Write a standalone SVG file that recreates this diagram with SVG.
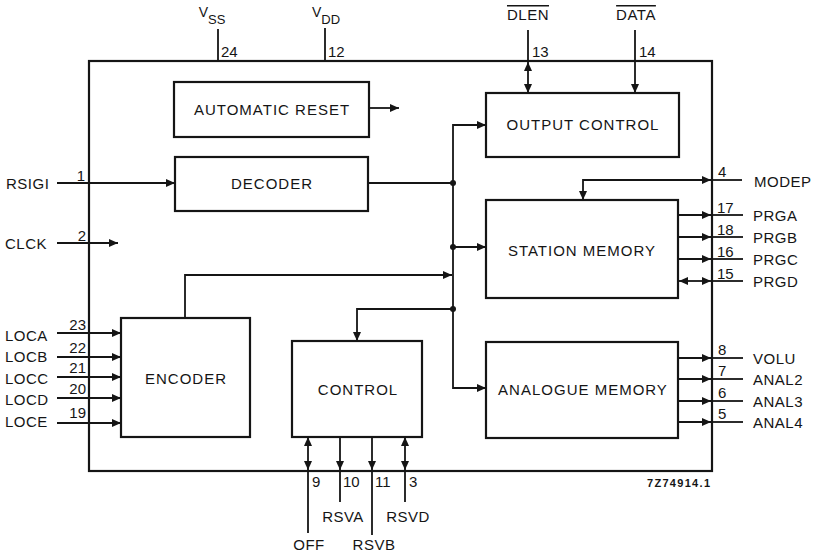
<svg xmlns="http://www.w3.org/2000/svg" width="814" height="555" viewBox="0 0 814 555">
<style>
  text { font-family: "Liberation Sans", Arial, sans-serif; fill: #151515; }
  .blk { fill: #ffffff; stroke: #151515; stroke-width: 2.2; }
  .outer { fill: none; stroke: #151515; stroke-width: 2.2; }
  .lbl { font-size: 15px; letter-spacing: 1px; text-anchor: middle; }
  .pin { font-size: 15px; letter-spacing: 0.5px; }
  .num { font-size: 15px; }
  .end { text-anchor: end; }
  .mid { text-anchor: middle; }
  .c { fill: none; stroke: #151515; stroke-width: 1.8; }
  .a { marker-end: url(#arr); }
  .aa { marker-start: url(#arr); marker-end: url(#arr); }
  .dot { fill: #151515; }
</style>
<defs>
  <marker id="arr" viewBox="0 0 9 8" refX="9" refY="4" markerWidth="9" markerHeight="8" markerUnits="userSpaceOnUse" orient="auto-start-reverse">
    <path d="M0,0 L9,4 L0,8 z" fill="#151515"/>
  </marker>
</defs>
<rect width="814" height="555" fill="#ffffff"/>

<rect id="chip" class="outer" x="89" y="61" width="623" height="410"/>

<g id="automatic-reset">
  <rect class="blk" x="174" y="82" width="195" height="55"/>
  <text class="lbl" x="272" y="115">AUTOMATIC RESET</text>
</g>
<g id="decoder">
  <rect class="blk" x="175" y="157" width="193" height="54"/>
  <text class="lbl" x="272" y="189">DECODER</text>
</g>
<g id="output-control">
  <rect class="blk" x="486" y="93" width="193" height="64"/>
  <text class="lbl" x="583" y="130">OUTPUT CONTROL</text>
</g>
<g id="station-memory">
  <rect class="blk" x="486" y="200" width="192" height="98"/>
  <text class="lbl" x="582" y="256">STATION MEMORY</text>
</g>
<g id="analogue-memory">
  <rect class="blk" x="486" y="342" width="192" height="96"/>
  <text class="lbl" x="583" y="395">ANALOGUE MEMORY</text>
</g>
<g id="encoder">
  <rect class="blk" x="121" y="318" width="129" height="119"/>
  <text class="lbl" x="186" y="384">ENCODER</text>
</g>
<g id="control">
  <rect class="blk" x="292" y="341" width="130" height="96"/>
  <text class="lbl" x="358" y="395">CONTROL</text>
</g>

<g id="connectors">
  <!-- left inputs -->
  <line class="c a" x1="57" y1="183" x2="175" y2="183"/>
  <line class="c a" x1="57" y1="243" x2="118" y2="243"/>
  <line class="c a" x1="57" y1="333" x2="121" y2="333"/>
  <line class="c a" x1="57" y1="357" x2="121" y2="357"/>
  <line class="c a" x1="57" y1="377" x2="121" y2="377"/>
  <line class="c a" x1="57" y1="398" x2="121" y2="398"/>
  <line class="c a" x1="57" y1="423" x2="121" y2="423"/>
  <!-- automatic reset out -->
  <line class="c a" x1="369" y1="108" x2="399" y2="108"/>
  <!-- decoder to bus -->
  <line class="c" x1="368" y1="183" x2="453" y2="183"/>
  <!-- bus -->
  <path class="c a" d="M453,183 V125 H486"/>
  <path class="c a" d="M453,183 V388 H486"/>
  <line class="c a" x1="453" y1="247" x2="486" y2="247"/>
  <circle class="dot" cx="453" cy="183" r="3"/>
  <circle class="dot" cx="453" cy="247" r="3"/>
  <circle class="dot" cx="453" cy="309" r="3"/>
  <!-- encoder to bus -->
  <path class="c a" d="M185,318 V275 H452"/>
  <!-- bus to control -->
  <path class="c a" d="M453,309 H357 V341"/>
  <!-- top pins -->
  <line class="c" x1="218" y1="29" x2="218" y2="61"/>
  <line class="c" x1="325" y1="28" x2="325" y2="61"/>
  <line class="c" x1="528" y1="30" x2="528" y2="62"/>
  <line class="c aa" x1="528" y1="62" x2="528" y2="93"/>
  <line class="c a" x1="635" y1="30" x2="635" y2="93"/>
  <!-- MODEP -->
  <path class="c aa" d="M711,180 H583 V200"/>
  <line class="c" x1="711" y1="180" x2="742" y2="180"/>
  <!-- station memory outputs -->
  <line class="c a" x1="678" y1="215" x2="711" y2="215"/>
  <line class="c" x1="711" y1="215" x2="743" y2="215"/>
  <line class="c a" x1="678" y1="237" x2="711" y2="237"/>
  <line class="c" x1="711" y1="237" x2="743" y2="237"/>
  <line class="c a" x1="678" y1="259" x2="711" y2="259"/>
  <line class="c" x1="711" y1="259" x2="743" y2="259"/>
  <line class="c aa" x1="679" y1="281" x2="711" y2="281"/>
  <line class="c" x1="711" y1="281" x2="743" y2="281"/>
  <!-- analogue memory outputs -->
  <line class="c a" x1="678" y1="358" x2="711" y2="358"/>
  <line class="c" x1="711" y1="358" x2="743" y2="358"/>
  <line class="c a" x1="678" y1="379" x2="711" y2="379"/>
  <line class="c" x1="711" y1="379" x2="743" y2="379"/>
  <line class="c a" x1="678" y1="401" x2="711" y2="401"/>
  <line class="c" x1="711" y1="401" x2="743" y2="401"/>
  <line class="c a" x1="678" y1="422" x2="711" y2="422"/>
  <line class="c" x1="711" y1="422" x2="743" y2="422"/>
  <!-- control bottom pins -->
  <line class="c aa" x1="308" y1="437" x2="308" y2="470"/>
  <line class="c" x1="308" y1="470" x2="308" y2="533"/>
  <line class="c a" x1="340" y1="437" x2="340" y2="470"/>
  <line class="c" x1="340" y1="470" x2="340" y2="502"/>
  <line class="c a" x1="372" y1="437" x2="372" y2="470"/>
  <line class="c" x1="372" y1="470" x2="372" y2="535"/>
  <line class="c aa" x1="405" y1="437" x2="405" y2="470"/>
  <line class="c" x1="405" y1="470" x2="405" y2="502"/>
</g>

<g id="pin-labels">
  <!-- top -->
  <text x="212" y="17" font-size="14" class="mid">V<tspan font-size="13" dy="7">SS</tspan></text>
  <text x="326" y="17" font-size="14" class="mid">V<tspan font-size="13" dy="7">DD</tspan></text>
  <text class="num" x="221" y="57">24</text>
  <text class="num" x="328" y="57">12</text>
  <text class="pin mid" x="528" y="20" text-decoration="overline">DLEN</text>
  <text class="pin mid" x="636" y="20" text-decoration="overline">DATA</text>
  <text class="num" x="532" y="57">13</text>
  <text class="num" x="639" y="57">14</text>
  <!-- left -->
  <text class="pin" x="6" y="189">RSIGI</text>
  <text class="pin" x="5" y="249">CLCK</text>
  <text class="pin" x="5" y="341">LOCA</text>
  <text class="pin" x="5" y="362">LOCB</text>
  <text class="pin" x="5" y="384">LOCC</text>
  <text class="pin" x="5" y="405">LOCD</text>
  <text class="pin" x="5" y="427">LOCE</text>
  <text class="num end" x="85" y="181">1</text>
  <text class="num end" x="86" y="241">2</text>
  <text class="num end" x="86" y="330">23</text>
  <text class="num end" x="86" y="353">22</text>
  <text class="num end" x="86" y="373">21</text>
  <text class="num end" x="86" y="394">20</text>
  <text class="num end" x="86" y="418">19</text>
  <!-- right -->
  <text class="num" x="718" y="177">4</text>
  <text class="pin" x="754" y="187">MODEP</text>
  <text class="num" x="717" y="213">17</text>
  <text class="num" x="717" y="235">18</text>
  <text class="num" x="717" y="257">16</text>
  <text class="num" x="717" y="279">15</text>
  <text class="pin" x="753" y="221">PRGA</text>
  <text class="pin" x="753" y="243">PRGB</text>
  <text class="pin" x="753" y="265">PRGC</text>
  <text class="pin" x="753" y="287">PRGD</text>
  <text class="num" x="718" y="355">8</text>
  <text class="num" x="718" y="376">7</text>
  <text class="num" x="718" y="398">6</text>
  <text class="num" x="718" y="419">5</text>
  <text class="pin" x="753" y="364">VOLU</text>
  <text class="pin" x="753" y="385">ANAL2</text>
  <text class="pin" x="753" y="407">ANAL3</text>
  <text class="pin" x="753" y="428">ANAL4</text>
  <!-- bottom -->
  <text class="num" x="312" y="487">9</text>
  <text class="num" x="343" y="487">10</text>
  <text class="num" x="375" y="487">11</text>
  <text class="num" x="409" y="487">3</text>
  <text class="pin mid" x="343" y="522">RSVA</text>
  <text class="pin mid" x="408" y="522">RSVD</text>
  <text class="pin mid" x="309" y="550">OFF</text>
  <text class="pin mid" x="374" y="550">RSVB</text>
  <text x="647" y="487" font-size="11" font-weight="bold" letter-spacing="1.3">7Z74914.1</text>
</g>
</svg>
